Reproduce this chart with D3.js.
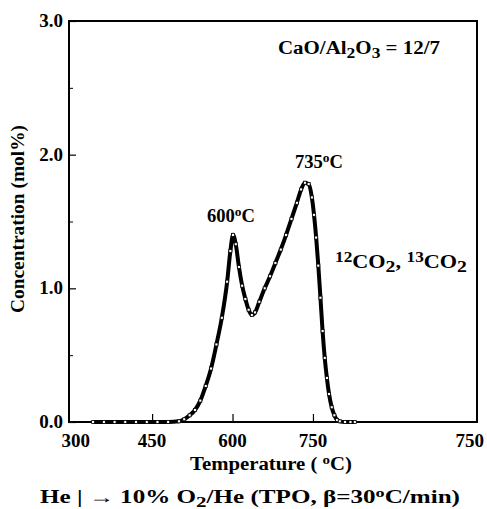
<!DOCTYPE html>
<html lang="en">
<head>
<meta charset="UTF-8">
<title>TPO CO2 profile</title>
<style>
  body { margin: 0; background: #fff; }
  text { font-family: "Liberation Serif", "Times New Roman", serif; font-weight: bold; fill: #000; }
</style>
<script src="https://d3js.org/d3.v7.min.js"></script>
</head>
<body>
<script>
// temperature (C) and CO2 concentration (mol%)
var temps = [340, 360, 380, 400, 420, 440, 460, 480, 500, 510, 520, 530, 540, 550, 560, 570, 580, 590, 596, 601,
             606, 612, 618, 624, 630, 636, 642, 650, 660, 670, 680, 690, 700, 710, 720, 728, 735, 742, 748, 752,
             756, 760, 764, 768, 772, 776, 780, 785, 790, 795, 800, 810, 820, 828];
var conc = [0, 0, 0, 0, 0, 0, 0, 0, 0.005, 0.02, 0.05, 0.09, 0.16, 0.27, 0.40, 0.58, 0.78, 1.05, 1.28, 1.40,
            1.33, 1.16, 1.02, 0.92, 0.84, 0.80, 0.82, 0.90, 1.00, 1.09, 1.19, 1.29, 1.40, 1.52, 1.64, 1.74, 1.79, 1.78, 1.68, 1.55,
            1.38, 1.17, 0.93, 0.68, 0.48, 0.33, 0.21, 0.11, 0.05, 0.015, 0.005, 0, 0, 0];
var xTicks = [300, 450, 600, 750, 1050];
var xTickLabels = ["300", "450", "600", "750", "750"];
var yTicks = [0, 1, 2, 3];
var yMinor = [0.5, 1.5, 2.5];

var width = 487, height = 509;
var mL = 69, mR = 477, mT = 21, mB = 422;

var svg = d3.select("body").append("svg")
    .attr("width", width)
    .attr("height", height);

var x = d3.scaleLinear().domain([295, 1056]).range([mL, mR]);
var y = d3.scaleLinear().domain([0, 3]).range([mB, mT]);

// frame
svg.append("rect")
    .attr("x", mL).attr("y", mT)
    .attr("width", mR - mL).attr("height", mB - mT)
    .attr("fill", "none").attr("stroke", "#000").attr("stroke-width", 2);

// y axis, ticks pointing inward
var yAxis = svg.append("g")
    .attr("transform", "translate(" + mL + ",0)")
    .call(d3.axisRight(y).tickValues(yTicks).tickSize(7).tickFormat(""));
yAxis.select(".domain").remove();
yAxis.selectAll("line").attr("stroke-width", 1.2);

var yMin = svg.append("g")
    .attr("transform", "translate(" + mL + ",0)")
    .call(d3.axisRight(y).tickValues(yMinor).tickSize(4).tickFormat(""));
yMin.select(".domain").remove();

svg.selectAll(".ylab")
    .data(yTicks)
    .enter().append("text")
    .attr("x", mL - 6)
    .attr("y", d => y(d) + 6)
    .attr("text-anchor", "end")
    .style("font-size", "19px")
    .text(d => d.toFixed(1));

// x axis
var xAxis = svg.append("g")
    .attr("transform", "translate(0," + mB + ")")
    .call(d3.axisTop(x).tickValues(xTicks.slice(1, 4)).tickSize(8).tickFormat(""));
xAxis.select(".domain").remove();
xAxis.selectAll("line").attr("stroke-width", 1.2);

svg.selectAll(".xlab")
    .data(xTicks)
    .enter().append("text")
    .attr("x", (d, i) => i == 0 ? x(d) + 4 : (i == 4 ? x(d) - 4 : x(d)))
    .attr("y", mB + 25)
    .attr("text-anchor", "middle")
    .style("font-size", "19px")
    .text((d, i) => xTickLabels[i]);

// curve: thick line with small open markers
var line = d3.line()
    .x((d, i) => x(temps[i]))
    .y(d => y(d))
    .curve(d3.curveMonotoneX);

svg.append("path")
    .datum(conc)
    .attr("d", line)
    .attr("fill", "none")
    .attr("stroke", "#000")
    .attr("stroke-width", 4);

svg.selectAll(".pt")
    .data(conc)
    .enter().append("rect")
    .attr("x", (d, i) => x(temps[i]) - 1.5)
    .attr("y", d => y(d) - 1.5)
    .attr("width", 3)
    .attr("height", 3)
    .attr("fill", "#fff")
    .attr("stroke", "#000")
    .attr("stroke-width", 0.8);

// labels
function stretched(px, py, len, size) {
    return svg.append("text")
        .attr("x", px).attr("y", py)
        .attr("textLength", len)
        .attr("lengthAdjust", "spacingAndGlyphs")
        .style("font-size", size + "px");
}

var xl = stretched(190, 470, 162, 18);
xl.append("tspan").text("Temperature (  ");
xl.append("tspan").attr("dy", -6).style("font-size", "13px").text("o");
xl.append("tspan").attr("dy", 6).text("C)");

svg.append("text")
    .attr("transform", "translate(24,219) rotate(-90)")
    .attr("text-anchor", "middle")
    .attr("textLength", 188)
    .attr("lengthAdjust", "spacingAndGlyphs")
    .style("font-size", "18px")
    .text("Concentration (mol%)");

var bl = stretched(40, 503, 420, 18);
bl.append("tspan").text("He | \u2192 10% O");
bl.append("tspan").attr("dy", 4).style("font-size", "15px").text("2");
bl.append("tspan").attr("dy", -4).text("/He (TPO,  \u03b2=30");
bl.append("tspan").attr("dy", -6).style("font-size", "13px").text("o");
bl.append("tspan").attr("dy", 6).text("C/min)");

var cao = stretched(278, 54, 162, 18);
cao.append("tspan").text("CaO/Al");
cao.append("tspan").attr("dy", 4).style("font-size", "15px").text("2");
cao.append("tspan").attr("dy", -4).text("O");
cao.append("tspan").attr("dy", 4).style("font-size", "15px").text("3");
cao.append("tspan").attr("dy", -4).text(" = 12/7");

function peakLabel(px, py, t) {
    var g = stretched(px, py, 48, 18);
    g.append("tspan").text(t);
    g.append("tspan").attr("dy", -6).style("font-size", "13px").text("o");
    g.append("tspan").attr("dy", 6).text("C");
}
peakLabel(207, 222, "600");
peakLabel(295, 168, "735");

var co = stretched(335, 268, 132, 18);
co.append("tspan").attr("dy", -6).style("font-size", "14px").text("12");
co.append("tspan").attr("dy", 6).text("CO");
co.append("tspan").attr("dy", 4).style("font-size", "16px").text("2");
co.append("tspan").attr("dy", -4).text(", ");
co.append("tspan").attr("dy", -6).style("font-size", "14px").text("13");
co.append("tspan").attr("dy", 6).text("CO");
co.append("tspan").attr("dy", 4).style("font-size", "16px").text("2");
</script>
</body>
</html>
